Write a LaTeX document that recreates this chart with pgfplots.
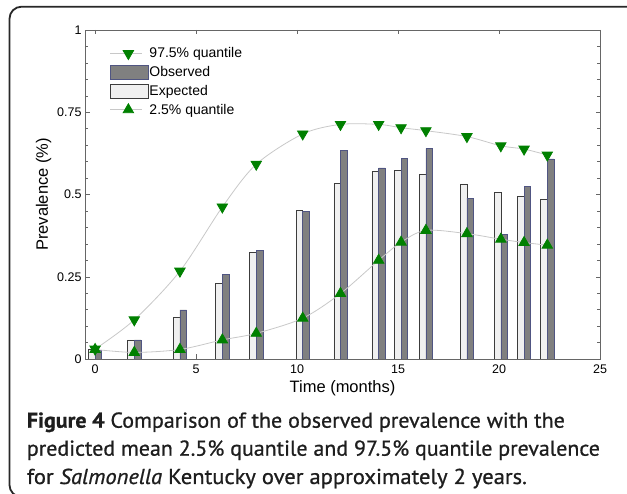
\documentclass[border=0pt]{standalone}
\usepackage{graphicx}
\usepackage{pgfplots}
\pgfplotsset{compat=1.18}
\usepackage{pgfplotstable}
\usepackage{fontspec}
\setmainfont{Liberation Sans}
\newfontfamily\capfont{PT Sans}[FakeBold=0.8]
\definecolor{mgreen}{RGB}{0,128,0}
\definecolor{lgray}{RGB}{200,200,200}
\definecolor{expfill}{RGB}{240,240,240}
\definecolor{obsfill}{RGB}{128,128,128}
\definecolor{obsedge}{RGB}{80,85,130}
\definecolor{expedge}{RGB}{60,60,60}
\definecolor{framec}{RGB}{40,40,40}
\definecolor{captext}{RGB}{30,30,30}

\pgfplotsset{
  lineleg/.style={legend image code/.code={\draw[##1,mark=none] (0pt,0pt) -- (32pt,0pt); \draw[##1,only marks] plot coordinates {(18pt,0pt)};}},
  barleg/.style={legend image code/.code={\draw[##1] (0pt,-7pt) rectangle (37.7pt,7pt);}},
}

\pgfplotstableread{
t     exp    obs    lo     hi
0     0.028  0.027  0.029  0.030
1.94  0.058  0.058  0.020  0.119
4.20  0.127  0.149  0.029  0.267
6.30  0.230  0.257  0.058  0.462
7.98  0.324  0.330  0.078  0.592
10.28 0.452  0.449  0.124  0.684
12.15 0.533  0.635  0.199  0.713
14.04 0.571  0.581  0.300  0.713
15.15 0.573  0.609  0.355  0.703
16.38 0.562  0.640  0.391  0.694
18.41 0.532  0.489  0.381  0.676
20.09 0.507  0.379  0.364  0.648
21.24 0.495  0.525  0.354  0.638
22.39 0.486  0.608  0.346  0.620
}\data

\begin{document}
\begin{tikzpicture}[x=1pt,y=1pt]
\path[use as bounding box] (0,0) rectangle (627,494);
\draw[framec, line width=1.8pt, rounded corners=12pt] (9.5,487.3) rectangle (650,-3);
\begin{axis}[
  at={(85pt,135pt)}, anchor=south west,
  scale only axis, width=515pt, height=329pt,
  xmin=-0.5, xmax=25, ymin=0, ymax=1,
  xtick={0,5,...,25},
  ytick={0,0.25,0.5,0.75,1},
  yticklabels={0,0.25,0.5,0.75,1},
  minor y tick num=4,
  tick align=inside,
  major tick length=4.5pt, minor tick length=3pt,
  axis line style={black!60},
  every tick/.style={black!60},
  tick label style={font=\fontsize{12.5}{14}\selectfont},
  xticklabel style={yshift=-2pt},
  /pgf/number format/assume math mode=true,
  xlabel={Time (months)}, ylabel={Prevalence (\%)},
  label style={font=\fontsize{16.5}{19}\selectfont},
  xlabel style={at={(axis description cs:0.5,-0.1033)}, anchor=base},
  ylabel style={at={(axis description cs:-0.072,0.5)}, anchor=base},
  legend style={at={(axis description cs:0.0485,0.949)}, anchor=north west,
    draw=none, fill=none, inner sep=0pt, outer sep=0pt,
    font=\fontsize{14}{15}\selectfont, row sep=4.3pt,
    nodes={inner sep=1pt}, cells={anchor=west}},
  legend cell align=left,
]
\addplot[ybar, bar width=0.33, bar shift=-0.165, fill=expfill, draw=expedge, line width=0.6pt, forget plot]
  table[x=t,y=exp]{\data};
\addplot[ybar, bar width=0.33, bar shift=0.165, fill=obsfill, draw=obsedge, line width=0.6pt, forget plot]
  table[x=t,y=obs]{\data};
\addplot[lgray, line width=0.8pt, smooth, tension=0.5, mark=triangle*, mark size=6pt,
  mark options={rotate=180, fill=mgreen, draw=mgreen}, forget plot]
  table[x=t,y=hi]{\data};
\addplot[lgray, line width=0.8pt, smooth, tension=0.5, mark=triangle*, mark size=6pt,
  mark options={fill=mgreen, draw=mgreen}, forget plot]
  table[x=t,y=lo]{\data};

\addlegendimage{lineleg, lgray, line width=0.8pt, mark=triangle*, mark size=6pt, mark options={rotate=180, fill=mgreen, draw=mgreen}}
\addlegendentry{97.5\% quantile}
\addlegendimage{barleg, fill=obsfill, draw=obsedge, line width=0.8pt}
\addlegendentry{Observed}
\addlegendimage{barleg, fill=expfill, draw=expedge, line width=0.8pt}
\addlegendentry{Expected}
\addlegendimage{lineleg, lgray, line width=0.8pt, mark=triangle*, mark size=6pt, mark options={fill=mgreen, draw=mgreen}}
\addlegendentry{2.5\% quantile}
\end{axis}
\node[anchor=base west, inner sep=0pt, text=captext, font=\capfont\fontsize{21.5}{24}\selectfont] at (26.7,66.3)
  {\resizebox{538pt}{\height}{\textbf{Figure 4} Comparison of the observed prevalence with the}};
\node[anchor=base west, inner sep=0pt, text=captext, font=\capfont\fontsize{21.5}{24}\selectfont] at (26.7,38.3)
  {\resizebox{573pt}{\height}{predicted mean 2.5\% quantile and 97.5\% quantile prevalence}};
\node[anchor=base west, inner sep=0pt, text=captext, font=\capfont\fontsize{21.5}{24}\selectfont] at (26.7,10)
  {\resizebox{500pt}{\height}{for \textit{Salmonella} Kentucky over approximately 2 years.}};
\end{tikzpicture}
\end{document}
